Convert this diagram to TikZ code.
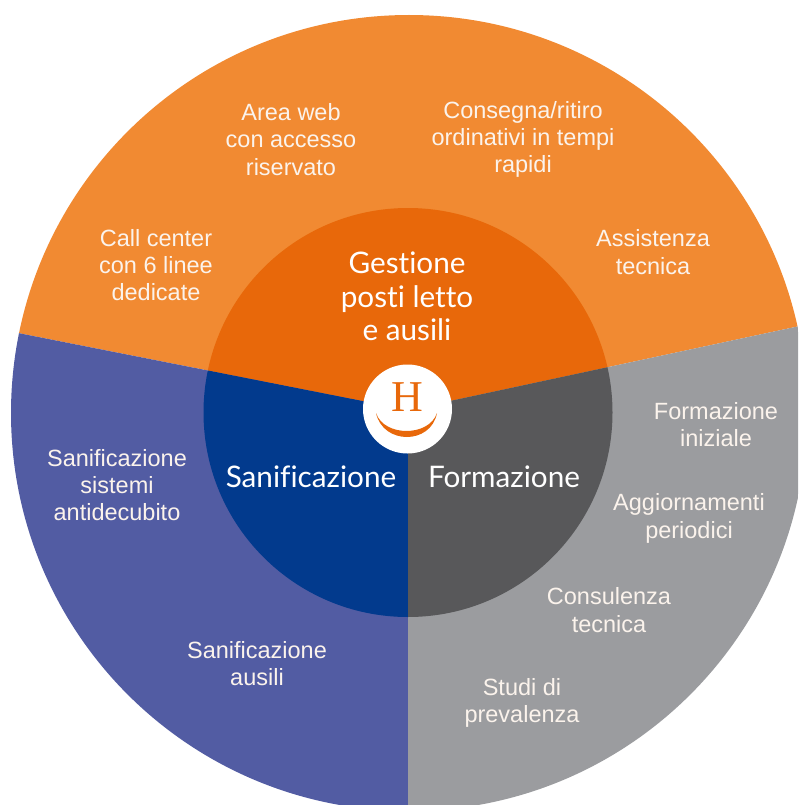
\documentclass[tikz,border=0pt]{standalone}
\usepackage{fontspec}
\setmainfont{Liberation Sans}
\newfontfamily\hubfont[Ligatures=NoCommon]{Lato}
\newfontfamily\logofont{Liberation Serif}
\definecolor{orangeout}{HTML}{F18A32}
\definecolor{orangein}{HTML}{E8680A}
\definecolor{blueout}{HTML}{525CA3}
\definecolor{bluein}{HTML}{023A8D}
\definecolor{grayout}{HTML}{9B9C9F}
\definecolor{grayin}{HTML}{58585A}
\definecolor{outtext}{HTML}{FBF3EC}
\tikzset{
  outlabel/.style={text=outtext,align=center,font=\fontsize{23.5}{27.4}\selectfont,inner sep=0pt},
  hublabel/.style={text=white,align=center,font=\hubfont\fontsize{29.7}{33.5}\selectfont,inner sep=0pt}
}
\begin{document}
\begin{tikzpicture}[x=1pt,y=-1pt]
\useasboundingbox (0,0) rectangle (798,805);
\coordinate (c) at (408,410);
\coordinate (L) at (18,333);
\coordinate (R) at (795,327);
\begin{scope}
\clip (0,0) rectangle (798,805);
\begin{scope}
\clip (409,413) circle[radius=398];
\fill[orangeout] (c) -- (L) -- (-40,321.6) -- (-40,-40) -- (840,-40) -- (840,317.5) -- (R) -- cycle;
\fill[blueout] (c) -- (L) -- (-40,321.6) -- (-40,860) -- (408,860) -- cycle;
\fill[grayout] (c) -- (R) -- (840,317.5) -- (840,860) -- (408,860) -- cycle;
\end{scope}
\begin{scope}
\clip (408,412.5) circle[radius=204.5];
\fill[orangein] (c) -- (L) -- (-40,321.6) -- (-40,-40) -- (840,-40) -- (840,317.5) -- (R) -- cycle;
\fill[bluein] (c) -- (L) -- (-40,321.6) -- (-40,860) -- (408,860) -- cycle;
\fill[grayin] (c) -- (R) -- (840,317.5) -- (840,860) -- (408,860) -- cycle;
\end{scope}
\end{scope}
\fill[white] (407.5,409) circle[radius=44.5];
\node[text=orangein,inner sep=0pt,font=\logofont\fontsize{44}{44}\selectfont] (logoH) at (407,397) {H};
\fill[orangein] (376,413) .. controls (383,445) and (431,445) .. (437,413) .. controls (429,437) and (384,437) .. cycle;
\node[outlabel] (n1) at (291,139.5) {Area web\\con accesso\\riservato};
\node[outlabel] (n2) at (523,139.5) {Consegna/ritiro\\ordinativi in tempi\\rapidi};
\node[outlabel] (n3) at (653,252) {Assistenza\\tecnica};
\node[outlabel] (n4) at (156,265) {Call center\\con 6 linee\\dedicate};
\node[outlabel] (n5) at (117,485) {Sanificazione\\sistemi\\antidecubito};
\node[outlabel] (n6) at (257,663.5) {Sanificazione\\ausili};
\node[outlabel] (n7) at (716,424.5) {Formazione\\iniziale};
\node[outlabel] (n8) at (689,518.5) {Aggiornamenti\\periodici};
\node[outlabel] (n9) at (609,610) {Consulenza\\tecnica};
\node[outlabel] (n10) at (522,703) {Studi di\\prevalenza};
\node[hublabel] (h1) at (407,296.5) {Gestione\\posti letto\\e ausili};
\node[hublabel] (h2) at (311,477) {Sanificazione};
\node[hublabel] (h3) at (504,477) {Formazione};
\end{tikzpicture}
\end{document}
